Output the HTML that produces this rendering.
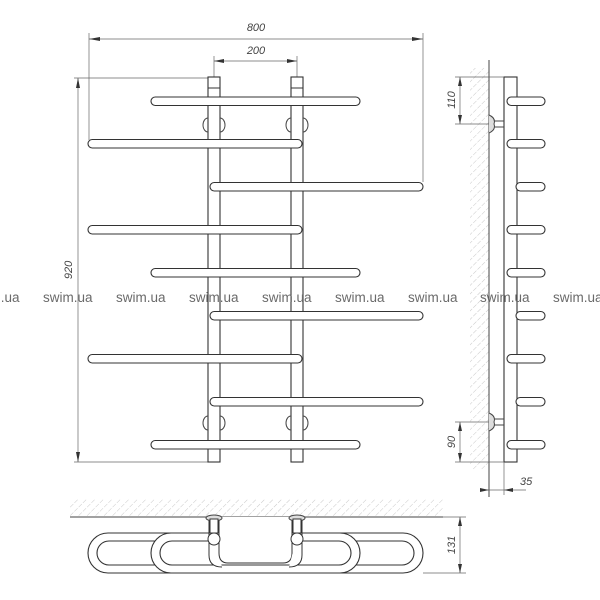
<!DOCTYPE html>
<html><head><meta charset="utf-8"><style>
html,body{margin:0;padding:0;background:#fff;}
svg{display:block;}
.d{stroke:#666;stroke-width:0.7;fill:none;}
.t{font-family:"Liberation Sans",sans-serif;font-style:italic;font-size:11px;fill:#444;}
.w{font-family:"Liberation Sans",sans-serif;font-size:13.5px;fill:#6a6a6a;}
.p{fill:#fff;stroke:#333;stroke-width:1.1;}
</style></head><body>
<svg width="600" height="600" viewBox="0 0 600 600" xmlns="http://www.w3.org/2000/svg">
<defs>
<pattern id="h" width="6" height="6" patternUnits="userSpaceOnUse" patternTransform="rotate(45)">
<line x1="0" y1="0" x2="0" y2="6" stroke="#bbb" stroke-width="0.8" stroke-dasharray="3,1.5"/>
</pattern>
</defs>

<!-- FRONT VIEW dims -->
<line class="d" x1="89" y1="33" x2="89" y2="140"/>
<line class="d" x1="423" y1="33" x2="423" y2="182"/>
<line class="d" x1="89" y1="39" x2="423" y2="39"/>
<polygon points="89,39 100,37 100,41" fill="#333"/>
<polygon points="423,39 412,37 412,41" fill="#333"/>
<text class="t" x="256" y="31" text-anchor="middle">800</text>
<line class="d" x1="214" y1="56" x2="214" y2="77"/>
<line class="d" x1="297" y1="56" x2="297" y2="77"/>
<line class="d" x1="214" y1="61" x2="297" y2="61"/>
<polygon points="214,61 224,59 224,63" fill="#333"/>
<polygon points="297,61 287,59 287,63" fill="#333"/>
<text class="t" x="256" y="54" text-anchor="middle">200</text>
<line class="d" x1="74" y1="78" x2="208" y2="78"/>
<line class="d" x1="74" y1="462" x2="208" y2="462"/>
<line class="d" x1="78" y1="78" x2="78" y2="462"/>
<polygon points="78,78 76,88 80,88" fill="#333"/>
<polygon points="78,462 76,452 80,452" fill="#333"/>
<text class="t" x="0" y="0" text-anchor="middle" transform="translate(72,270) rotate(-90)">920</text>

<!-- posts -->
<rect class="p" x="208" y="77" width="12" height="385"/>
<rect class="p" x="291" y="77" width="12" height="385"/>
<line x1="208" y1="88" x2="220" y2="88" stroke="#333" stroke-width="1"/>
<line x1="291" y1="88" x2="303" y2="88" stroke="#333" stroke-width="1"/>
<!-- brackets -->
<g fill="none" stroke="#444" stroke-width="1">
<path d="M208,118 A5,7 0 0 0 208,132"/><path d="M220,118 A5,7 0 0 1 220,132"/>
<path d="M291,118 A5,7 0 0 0 291,132"/><path d="M303,118 A5,7 0 0 1 303,132"/>
<path d="M208,416 A5,7 0 0 0 208,430"/><path d="M220,416 A5,7 0 0 1 220,430"/>
<path d="M291,416 A5,7 0 0 0 291,430"/><path d="M303,416 A5,7 0 0 1 303,430"/>
</g>
<!-- bars -->
<g>
<rect class="p" x="151" y="97" width="209" height="8.5" rx="4.2"/>
<rect class="p" x="88" y="139.5" width="214" height="8.5" rx="4.2"/>
<rect class="p" x="210" y="182.5" width="213" height="8.5" rx="4.2"/>
<rect class="p" x="88" y="225.5" width="214" height="8.5" rx="4.2"/>
<rect class="p" x="151" y="268.5" width="209" height="8.5" rx="4.2"/>
<rect class="p" x="210" y="311.5" width="213" height="8.5" rx="4.2"/>
<rect class="p" x="88" y="354.5" width="214" height="8.5" rx="4.2"/>
<rect class="p" x="210" y="397.5" width="213" height="8.5" rx="4.2"/>
<rect class="p" x="151" y="440.5" width="209" height="8.5" rx="4.2"/>
</g>

<!-- SIDE VIEW -->
<rect x="470" y="68" width="19" height="402" fill="url(#h)"/>
<line x1="489" y1="60" x2="489" y2="497" stroke="#444" stroke-width="1"/>
<rect class="p" x="504" y="77" width="13" height="385"/>
<line x1="494" y1="121" x2="504" y2="121" stroke="#444"/><line x1="494" y1="127" x2="504" y2="127" stroke="#444"/>
<line x1="494" y1="419" x2="504" y2="419" stroke="#444"/><line x1="494" y1="425" x2="504" y2="425" stroke="#444"/>
<path d="M489,115 Q496,118 494,124 Q496,130 489,133" fill="#ddd" stroke="#444"/>
<path d="M489,413 Q496,416 494,422 Q496,428 489,431" fill="#ddd" stroke="#444"/>
<g>
<rect class="p" x="507" y="97" width="38" height="8.5" rx="4.2"/>
<rect class="p" x="507" y="139.5" width="38" height="8.5" rx="4.2"/>
<rect class="p" x="516" y="182.5" width="29" height="8.5" rx="4.2"/>
<rect class="p" x="507" y="225.5" width="38" height="8.5" rx="4.2"/>
<rect class="p" x="507" y="268.5" width="38" height="8.5" rx="4.2"/>
<rect class="p" x="516" y="311.5" width="29" height="8.5" rx="4.2"/>
<rect class="p" x="507" y="354.5" width="38" height="8.5" rx="4.2"/>
<rect class="p" x="516" y="397.5" width="29" height="8.5" rx="4.2"/>
<rect class="p" x="507" y="440.5" width="38" height="8.5" rx="4.2"/>
</g>
<line class="d" x1="455" y1="77" x2="504" y2="77"/>
<line class="d" x1="455" y1="124" x2="489" y2="124"/>
<line class="d" x1="460" y1="77" x2="460" y2="124"/>
<polygon points="460,77 458,86 462,86" fill="#333"/><polygon points="460,124 458,115 462,115" fill="#333"/>
<text class="t" x="0" y="0" text-anchor="middle" transform="translate(455,100) rotate(-90)">110</text>
<line class="d" x1="455" y1="422" x2="489" y2="422"/>
<line class="d" x1="455" y1="462" x2="504" y2="462"/>
<line class="d" x1="460" y1="422" x2="460" y2="462"/>
<polygon points="460,422 458,431 462,431" fill="#333"/><polygon points="460,462 458,453 462,453" fill="#333"/>
<text class="t" x="0" y="0" text-anchor="middle" transform="translate(455,442) rotate(-90)">90</text>
<line class="d" x1="504" y1="462" x2="504" y2="495"/>
<line class="d" x1="480" y1="490" x2="526" y2="490"/>
<polygon points="489,490 480,488 480,492" fill="#333"/><polygon points="504,490 513,488 513,492" fill="#333"/>
<text class="t" x="520" y="485">35</text>

<!-- TOP VIEW -->
<rect x="70" y="499" width="373" height="18" fill="url(#h)"/>
<line x1="70" y1="517" x2="443" y2="517" stroke="#444" stroke-width="1"/>
<rect class="p" x="210" y="533" width="213" height="40" rx="20"/>
<rect class="p" x="219" y="541" width="195" height="24" rx="12"/>
<rect class="p" x="88" y="533" width="214" height="40" rx="20"/>
<rect class="p" x="97" y="541" width="196" height="24" rx="12"/>
<rect class="p" x="151" y="533" width="209" height="40" rx="20"/>
<rect class="p" x="160" y="541" width="191" height="24" rx="12"/>
<rect x="221" y="542" width="69" height="22" fill="#fff"/>
<path d="M208,517 L208,558 Q208,565 220,565 L291,565 Q303,565 303,558 L303,517" fill="none" stroke="none"/>
<g fill="#fff" stroke="#333" stroke-width="1">
<path d="M209,517 L209,555 Q209,567 222,567"/>
<path d="M219,517 L219,553 Q219,563 228,563 L283,563 Q292,563 292,553 L292,517"/>
<path d="M302,517 L302,555 Q302,567 289,567"/>
</g>
<ellipse cx="214" cy="518" rx="8" ry="3" fill="#ddd" stroke="#444"/>
<ellipse cx="297" cy="518" rx="8" ry="3" fill="#ddd" stroke="#444"/>
<rect x="210" y="519" width="8" height="14" fill="#fff" stroke="#333"/>
<rect x="293" y="519" width="8" height="14" fill="#fff" stroke="#333"/>
<circle cx="214" cy="539" r="6" fill="#fff" stroke="#333"/>
<circle cx="297" cy="539" r="6" fill="#fff" stroke="#333"/>
<line class="d" x1="443" y1="517" x2="466" y2="517"/>
<line class="d" x1="423" y1="573" x2="466" y2="573"/>
<line class="d" x1="460" y1="517" x2="460" y2="573"/>
<polygon points="460,517 458,526 462,526" fill="#333"/><polygon points="460,573 458,564 462,564" fill="#333"/>
<text class="t" x="0" y="0" text-anchor="middle" transform="translate(455,545) rotate(-90)">131</text>

<!-- watermark -->
<g class="w">
<text x="-30" y="302">swim.ua</text>
<text x="43" y="302">swim.ua</text>
<text x="116" y="302">swim.ua</text>
<text x="189" y="302">swim.ua</text>
<text x="262" y="302">swim.ua</text>
<text x="335" y="302">swim.ua</text>
<text x="408" y="302">swim.ua</text>
<text x="480" y="302">swim.ua</text>
<text x="553" y="302">swim.ua</text>
</g>
</svg>
</body></html>
